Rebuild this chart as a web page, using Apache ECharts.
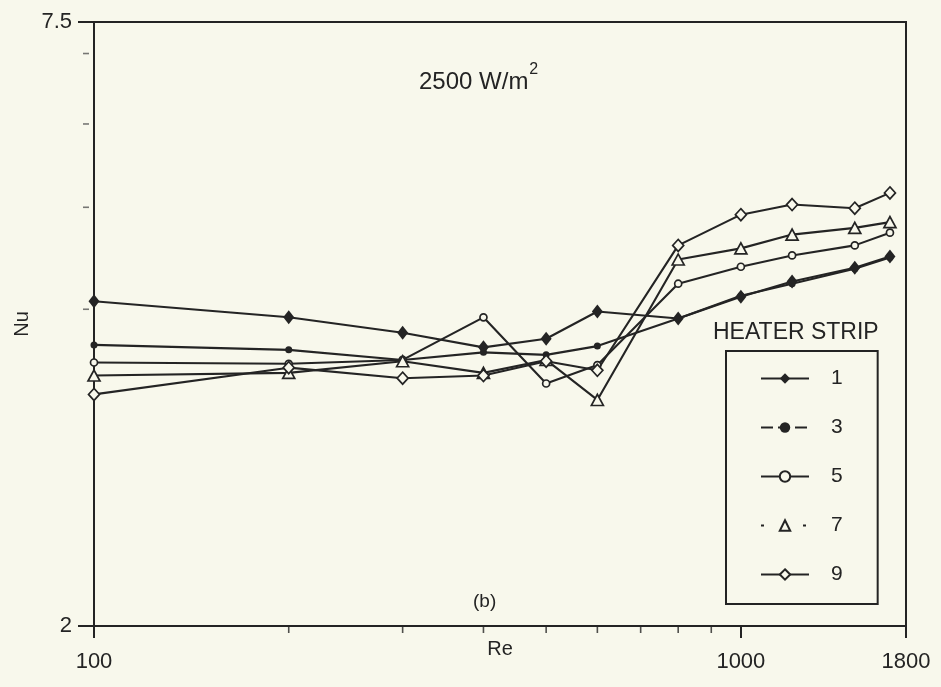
<!DOCTYPE html>
<html>
<head>
<meta charset="utf-8">
<script src="https://cdn.jsdelivr.net/npm/echarts@6/dist/echarts.min.js"></script>
<style>
html,body{margin:0;padding:0;background:#f8f8ec;}
#c{width:941px;height:687px;}
</style>
</head>
<body>
<div id="c"></div>
<script>
// ---- data ----
const re = [100, 200, 300, 400, 500, 600, 800, 1000, 1200, 1500, 1700];
const strip1 = [4.07, 3.93, 3.80, 3.68, 3.75, 3.98, 3.92, 4.11, 4.25, 4.38, 4.49];
const strip3 = [3.70, 3.66, 3.58, 3.64, 3.62, 3.69, 3.92, 4.12, 4.23, 4.37, 4.48];
const strip5 = [3.56, 3.55, 3.58, 3.93, 3.40, 3.54, 4.23, 4.39, 4.50, 4.60, 4.73];
const strip7 = [3.46, 3.48, 3.57, 3.48, 3.58, 3.28, 4.46, 4.57, 4.71, 4.78, 4.84];
const strip9 = [3.32, 3.52, 3.44, 3.46, 3.57, 3.50, 4.60, 4.92, 5.03, 4.99, 5.16];
const legendNames = ['1', '3', '5', '7', '9'];
const xMinorTicks = [200, 300, 400, 500, 600, 700, 800, 900];
const yMinorTicks = [4, 5, 6, 7];
const xMin = 100, xMax = 1800, yMin = 2, yMax = 7.5;

const BG = '#f8f8ec';
const INK = '#242424';
const FONT = '"Liberation Sans", Arial, Helvetica, sans-serif';

function pairs(ys) { return re.map((x, i) => [x, ys[i]]); }
function fmt(v) { return String(+(+v).toPrecision(6)); }

function lineSeries(name, ys, symbol, size, filled) {
  return {
    name: name, type: 'line', data: pairs(ys),
    symbol: symbol, symbolSize: size, showAllSymbol: true,
    lineStyle: { color: INK, width: 2.1 },
    itemStyle: filled ? { color: INK, borderWidth: 0 } : { color: BG, borderColor: INK, borderWidth: 1.7 },
    emphasis: { disabled: true },
    z: 3
  };
}

const chart = echarts.init(document.getElementById('c'), null, { renderer: 'canvas' });
chart.setOption({
  animation: false,
  backgroundColor: BG,
  textStyle: { fontFamily: FONT, color: INK },
  title: {
    text: '{a|2500 W/m}{s|2}',
    left: 414, top: 57,
    textStyle: {
      fontWeight: 'normal',
      rich: {
        a: { fontSize: 24, fontWeight: 'normal', fontFamily: FONT, color: INK, lineHeight: 32, verticalAlign: 'bottom' },
        s: { fontSize: 16, fontWeight: 'normal', fontFamily: FONT, color: INK, lineHeight: 32, verticalAlign: 'top', padding: [0, 0, 0, 1] }
      }
    }
  },
  grid: {
    left: 94, right: 35, top: 22, bottom: 61, show: true,
    borderColor: INK, borderWidth: 2, backgroundColor: 'transparent',
    containLabel: false, outerBoundsMode: 'none'
  },
  xAxis: {
    type: 'log', logBase: 10, min: xMin, max: xMax,
    name: 'Re', nameLocation: 'middle', nameGap: 13, nameMoveOverlap: false,
    nameTextStyle: { fontSize: 20, color: INK, fontFamily: FONT },
    axisLine: { lineStyle: { color: INK, width: 2 } },
    axisTick: { length: 12, lineStyle: { color: INK, width: 2 } },
    axisLabel: { margin: 25, fontSize: 22, color: INK, fontFamily: FONT, formatter: fmt, showMinLabel: true, showMaxLabel: true, hideOverlap: false },
    splitLine: { show: false }, minorTick: { show: false }
  },
  yAxis: {
    type: 'log', logBase: 10, min: yMin, max: yMax,
    name: 'Nu', nameLocation: 'middle', nameGap: 62, nameMoveOverlap: false,
    nameTextStyle: { fontSize: 20, color: INK, fontFamily: FONT },
    axisLine: { lineStyle: { color: INK, width: 2 } },
    axisTick: { length: 16, lineStyle: { color: INK, width: 2 } },
    axisLabel: { margin: 22, fontSize: 22, color: INK, fontFamily: FONT, formatter: fmt, showMinLabel: true, showMaxLabel: true, hideOverlap: false },
    splitLine: { show: false }, minorTick: { show: false }
  },
  legend: {
    orient: 'vertical', left: 726, top: 351,
    data: [
      { name: '1' },
      { name: '3', lineStyle: { type: [12, 5] } },
      { name: '5' },
      { name: '7', lineStyle: { type: [3, 18] } },
      { name: '9' }
    ],
    padding: [17, 35, 19, 34],
    itemWidth: 48, itemHeight: 13, itemGap: 28,
    borderColor: INK, borderWidth: 2, backgroundColor: 'transparent',
    selectedMode: false,
    textStyle: { fontSize: 21, color: INK, fontFamily: FONT, padding: [0, 0, 0, 17] }
  },
  graphic: [
    { type: 'text', left: 713, top: 321, style: { text: 'HEATER STRIP', font: '23px ' + FONT, fill: INK } },
    { type: 'text', left: 473, top: 592, style: { text: '(b)', font: '19px ' + FONT, fill: INK } }
  ],
  series: [
    lineSeries('1', strip1, 'diamond', [11, 14], true),
    lineSeries('3', strip3, 'circle', 7, true),
    lineSeries('5', strip5, 'circle', 7, false),
    lineSeries('7', strip7, 'triangle', [12, 11], false),
    lineSeries('9', strip9, 'diamond', [11, 12], false),
    {
      name: 'xminor', type: 'scatter', clip: false, silent: true,
      data: xMinorTicks.map(v => [v, yMin]),
      symbol: 'rect', symbolSize: [1.6, 6], symbolOffset: [0, 4],
      itemStyle: { color: INK }, z: 1
    },
    {
      name: 'yminor', type: 'scatter', clip: false, silent: true,
      data: yMinorTicks.map(v => [xMin, v]),
      symbol: 'rect', symbolSize: [6, 1.6], symbolOffset: [-8, 0],
      itemStyle: { color: '#555' }, z: 1
    }
  ]
});
</script>
</body>
</html>
